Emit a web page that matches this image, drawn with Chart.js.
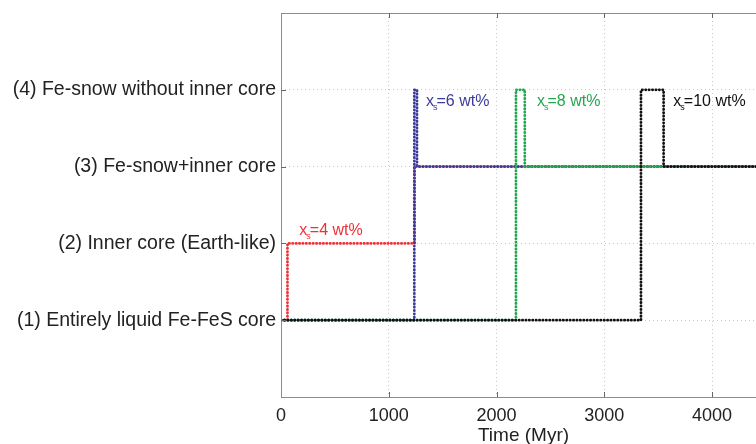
<!DOCTYPE html>
<html>
<head>
<meta charset="utf-8">
<script src="https://cdn.jsdelivr.net/npm/chart.js@4"></script>
<style>
  html, body { margin: 0; padding: 0; background: #fff; overflow: hidden; }
  #wrap { width: 768px; height: 444px; }
</style>
</head>
<body>
<div id="wrap"><canvas id="regimeChart"></canvas></div>
<script>
// Regimes on the y axis (1..4)
const regimeLabels = {
    1: "(1) Entirely liquid Fe-FeS core",
    2: "(2) Inner core (Earth-like)",
    3: "(3) Fe-snow+inner core",
    4: "(4) Fe-snow without inner core"
};

// Time (Myr) and regime for each sulfur content
const timeS4 = [0, 60, 60, 1240, 1240, 4500];
const stateS4 = [1, 1, 2, 2, 3, 3];
const timeS6 = [0, 1237, 1237, 1262, 1262, 4500];
const stateS6 = [1, 1, 4, 4, 3, 3];
const timeS8 = [0, 2180, 2180, 2262, 2262, 4500];
const stateS8 = [1, 1, 4, 4, 3, 3];
const timeS10 = [0, 3340, 3340, 3550, 3550, 4500];
const stateS10 = [1, 1, 4, 4, 3, 3];

// Labels "x_s=.. wt%"
const noteValues = ["4", "6", "8", "10"];
const noteTimes = [170, 1345, 2375, 3640];
const noteStates = [2.18, 3.85, 3.85, 3.85];

const xTicks = [0, 1000, 2000, 3000, 4000];

const colors = ["#ee3136", "#3b3b9c", "#22a74f", "#111111"];

function toPoints(t, s) {
    return t.map((v, i) => ({ x: v, y: s[i] }));
}

const font = "'Liberation Sans', Arial, Helvetica, sans-serif";

// box, inward ticks and the subscript notes
const framePlugin = {
    id: 'frame',
    afterDatasetsDraw(chart) {
        const { ctx, chartArea: a, scales } = chart;
        ctx.save();
        ctx.strokeStyle = '#8c8c8c';
        ctx.lineWidth = 1;
        ctx.strokeRect(a.left + 0.5, a.top + 0.5, a.right - a.left, a.bottom - a.top);
        ctx.strokeStyle = '#666';
        xTicks.slice(1).forEach(v => {
            const px = Math.round(scales.x.getPixelForValue(v)) + 0.5;
            ctx.beginPath();
            ctx.moveTo(px, a.bottom); ctx.lineTo(px, a.bottom - 5);
            ctx.moveTo(px, a.top); ctx.lineTo(px, a.top + 5);
            ctx.stroke();
        });
        [1, 2, 3, 4].forEach(v => {
            const py = Math.round(scales.y.getPixelForValue(v)) + 0.5;
            ctx.beginPath();
            ctx.moveTo(a.left, py); ctx.lineTo(a.left + 5, py);
            ctx.stroke();
        });
        // notes
        noteValues.forEach((val, i) => {
            const px = scales.x.getPixelForValue(noteTimes[i]);
            const py = scales.y.getPixelForValue(noteStates[i]);
            ctx.fillStyle = colors[i];
            ctx.textBaseline = 'alphabetic';
            ctx.font = "16px " + font;
            ctx.fillText("x", px, py + 5);
            let w = ctx.measureText("x").width;
            ctx.font = "9px " + font;
            ctx.fillText("s", px + w - 1, py + 9);
            const ws = ctx.measureText("s").width;
            ctx.font = "16px " + font;
            ctx.fillText("=" + val + " wt%", px + w + ws - 2, py + 5);
        });
        ctx.restore();
    }
};

const ctx = document.getElementById('regimeChart').getContext('2d');
const makeSet = (t, s, c) => ({
    data: toPoints(t, s),
    borderColor: c,
    borderWidth: 2.8,
    borderDash: [0.3, 3.1],
    borderCapStyle: 'round',
    borderJoinStyle: 'round',
    pointRadius: 0,
    fill: false,
    tension: 0
});

new Chart(ctx, {
    type: 'line',
    data: {
        datasets: [
            makeSet(timeS10, stateS10, colors[3]),
            makeSet(timeS8, stateS8, colors[2]),
            makeSet(timeS6, stateS6, colors[1]),
            makeSet(timeS4, stateS4, colors[0])
        ]
    },
    options: {
        responsive: true,
        maintainAspectRatio: false,
        animation: false,
        layout: { padding: { top: 13, right: 2, left: 0, bottom: 0 } },
        plugins: { legend: { display: false }, tooltip: { enabled: false } },
        scales: {
            x: {
                type: 'linear',
                min: 0, max: 4500,
                afterBuildTicks: s => { s.ticks = xTicks.map(v => ({ value: v })); },
                afterFit: s => { s.height = 47; },
                ticks: {
                    color: '#222', font: { family: font, size: 18 }, padding: 8, maxRotation: 0,
                    callback: v => String(v)
                },
                grid: {
                    drawTicks: false,
                    color: c => (c.tick && c.tick.value > 0) ? '#c8c8c8' : 'rgba(0,0,0,0)'
                },
                border: { display: false, dash: [1, 3] },
                title: { display: true, text: 'Time (Myr)', color: '#222', font: { family: font, size: 19 }, padding: { top: 0, bottom: -3 } }
            },
            y: {
                type: 'linear',
                min: 0, max: 5,
                afterFit: s => { s.width = 281; s.paddingTop = 0; s.paddingBottom = 0; },
                ticks: {
                    stepSize: 1,
                    color: '#222',
                    font: { family: font, size: 19.5 },
                    padding: 5,
                    callback: v => regimeLabels[v] || ''
                },
                grid: {
                    drawTicks: false,
                    color: c => (c.tick && c.tick.value > 0 && c.tick.value < 5) ? '#c8c8c8' : 'rgba(0,0,0,0)'
                },
                border: { display: false, dash: [1, 3] }
            }
        }
    },
    plugins: [framePlugin]
});
</script>
</body>
</html>
